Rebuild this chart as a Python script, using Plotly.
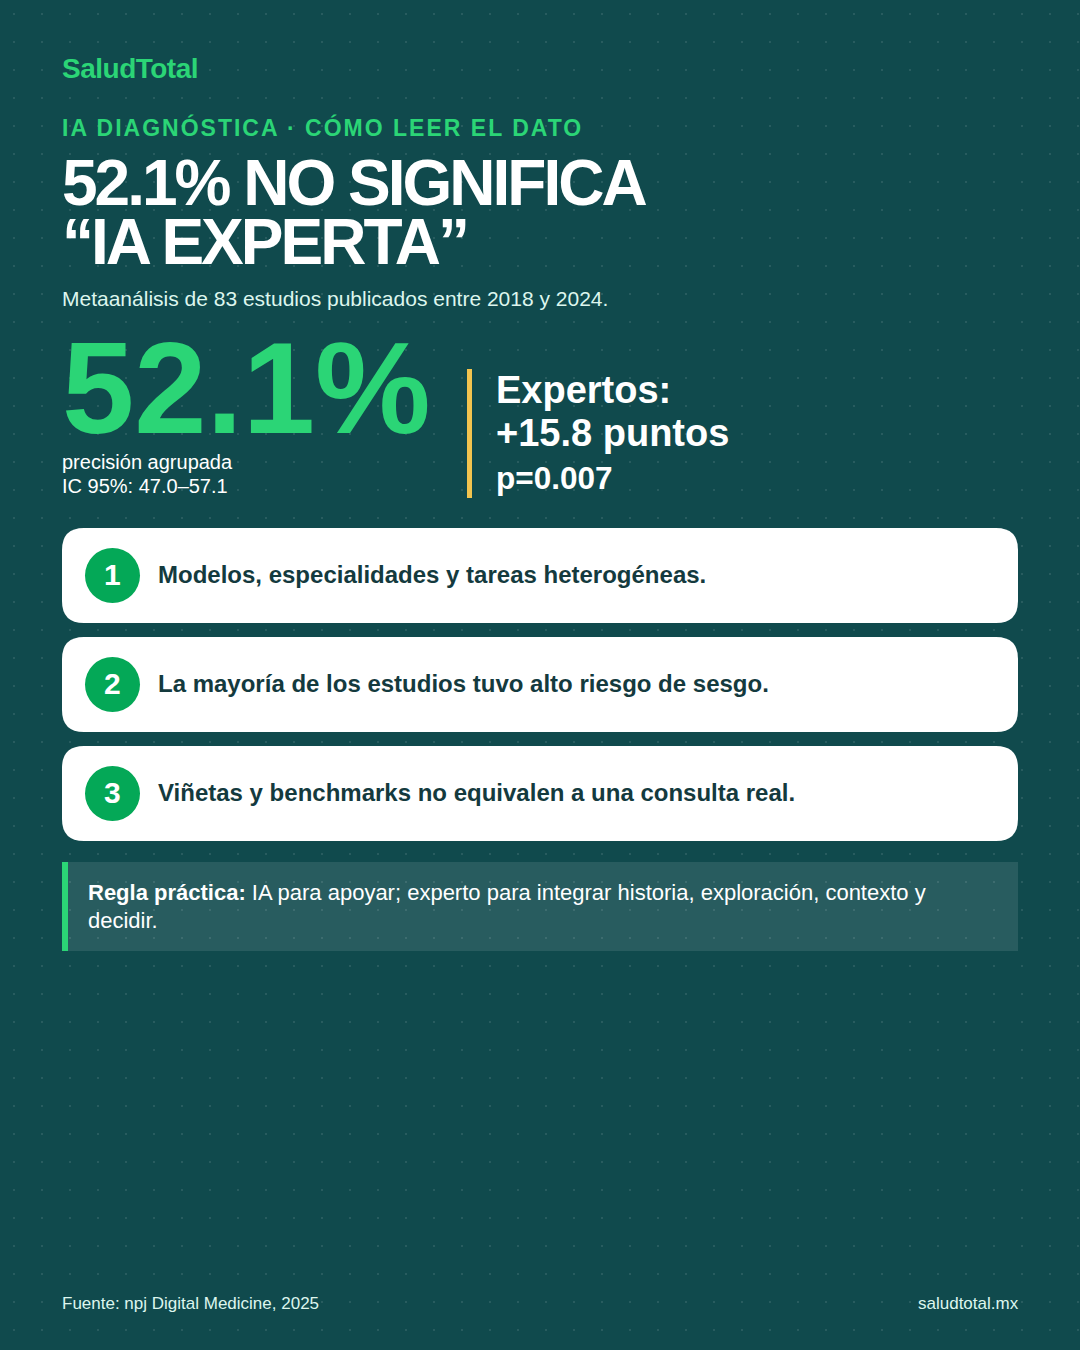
import json
import plotly.graph_objects as go

# Texts and figures
BRAND = "SaludTotal"
EYEBROW = "IA DIAGNÓSTICA · CÓMO LEER EL DATO"
TITLE_LINES = ["52.1% NO SIGNIFICA", "“IA EXPERTA”"]
SUBTITLE = "Metaanálisis de 83 estudios publicados entre 2018 y 2024."
BIG_VALUE = "52.1%"
BIG_NOTES = ["precisión agrupada", "IC 95%: 47.0–57.1"]
EXPERT_LINES = ["Expertos:", "+15.8 puntos"]
P_VALUE = "p=0.007"
STEPS = [
    "Modelos, especialidades y tareas heterogéneas.",
    "La mayoría de los estudios tuvo alto riesgo de sesgo.",
    "Viñetas y benchmarks no equivalen a una consulta real.",
]
RULE_LINES = [
    "<b>Regla práctica:</b> IA para apoyar; experto para integrar historia, exploración, contexto y",
    "decidir.",
]
SOURCE = "Fuente: npj Digital Medicine, 2025"
SITE = "saludtotal.mx"

BG = "#104A4D"
GREEN = "#2BD576"
CIRCLE = "#04A857"
GOLD = "#F2C44F"
INK = "#143A3E"
PALE = "#DDF6EE"
FONT = "Liberation Sans"

W, H = 1080, 1350
CARD_TOPS = [528, 637, 746]


def rounded(x0, y0, x1, y1, r):
    return (f"M{x0+r},{y0} L{x1-r},{y0} Q{x1},{y0} {x1},{y0+r} L{x1},{y1-r} Q{x1},{y1} {x1-r},{y1} "
            f"L{x0+r},{y1} Q{x0},{y1} {x0},{y1-r} L{x0},{y0+r} Q{x0},{y0} {x0+r},{y0} Z")


fig = go.Figure()

# background dot pattern, 28px grid
dots_x = [x for y in range(14, H, 28) for x in range(14, W, 28)]
dots_y = [y for y in range(14, H, 28) for x in range(14, W, 28)]
fig.add_trace(go.Scatter(x=dots_x, y=dots_y, mode="markers", hoverinfo="skip", showlegend=False,
                         marker=dict(symbol="square", size=2, color="rgba(255,255,255,0.10)", line=dict(width=0))))

# cards, divider and rule panel
for top in CARD_TOPS:
    fig.add_shape(type="path", path=rounded(62, top, 1018, top + 95, 22), fillcolor="white", line_width=0, layer="above")
    fig.add_shape(type="circle", x0=85, x1=140, y0=top + 20, y1=top + 75, fillcolor=CIRCLE, line_width=0, layer="above")
fig.add_shape(type="rect", x0=467, x1=472, y0=369, y1=498, fillcolor=GOLD, line_width=0, layer="above")
fig.add_shape(type="rect", x0=62, x1=1018, y0=862, y1=951, fillcolor="rgba(255,255,255,0.10)", line_width=0, layer="above")
fig.add_shape(type="rect", x0=62, x1=68, y0=862, y1=951, fillcolor=GREEN, line_width=0, layer="above")

spacings = []


def label(text, x, y, size, color, bold=False, anchor="left", spacing=0):
    # y is the vertical middle of the line, in page pixels
    fig.add_annotation(x=x, y=y, text=text, showarrow=False, xref="x", yref="y", xanchor=anchor, yanchor="middle",
                       align=anchor, borderpad=0, borderwidth=0,
                       font=dict(family=FONT, size=size, color=color, weight="bold" if bold else "normal"))
    spacings.append(spacing)


label(BRAND, 62, 68.9, 28, GREEN, True, spacing=-0.5)
label(EYEBROW, 62, 127, 23, GREEN, True, spacing=2)
label(TITLE_LINES[0], 62, 183, 64, "white", True, spacing=-3)
label(TITLE_LINES[1], 62, 242, 64, "white", True, spacing=-3)
label(SUBTITLE, 62, 298, 21, PALE)
label(BIG_VALUE, 62, 388, 130, GREEN, True)
label(BIG_NOTES[0], 62, 462, 20, "white")
label(BIG_NOTES[1], 62, 486, 20, "white")
label(EXPERT_LINES[0], 495.5, 390, 38, "white", True)
label(EXPERT_LINES[1], 495.5, 433, 38, "white", True)
label(P_VALUE, 495.5, 478, 31.5, "white", True)
for i, (top, step) in enumerate(zip(CARD_TOPS, STEPS)):
    label(str(i + 1), 112.5, top + 46.5, 30, "white", True, anchor="center")
    label(step, 158, top + 46.5, 24, INK, True)
label(RULE_LINES[0], 88, 892, 22, "white")
label(RULE_LINES[1], 88, 920, 22, "white")
label(SOURCE, 62, 1303, 17, PALE)
label(SITE, 1018.6, 1303, 17, PALE, anchor="right")

fig.update_layout(
    width=W, height=H, autosize=False,
    margin=dict(l=0, r=0, t=0, b=0, pad=0),
    paper_bgcolor=BG, plot_bgcolor=BG, showlegend=False,
    xaxis=dict(range=[0, W], visible=False, fixedrange=True),
    yaxis=dict(range=[H, 0], visible=False, fixedrange=True),
)

# letter-spacing is not a Plotly font option, so it goes on the text nodes afterwards
post = """
document.documentElement.style.margin = '0';
document.body.style.margin = '0';
document.body.style.overflow = 'hidden';
var sp = %s;
document.querySelectorAll('.annotation-text').forEach(function(t, i) {
  if (sp[i]) { t.style.letterSpacing = sp[i] + 'px'; }
});
""" % json.dumps(spacings)

fig.write_html("out.html", config=dict(displayModeBar=False), post_script=post)
